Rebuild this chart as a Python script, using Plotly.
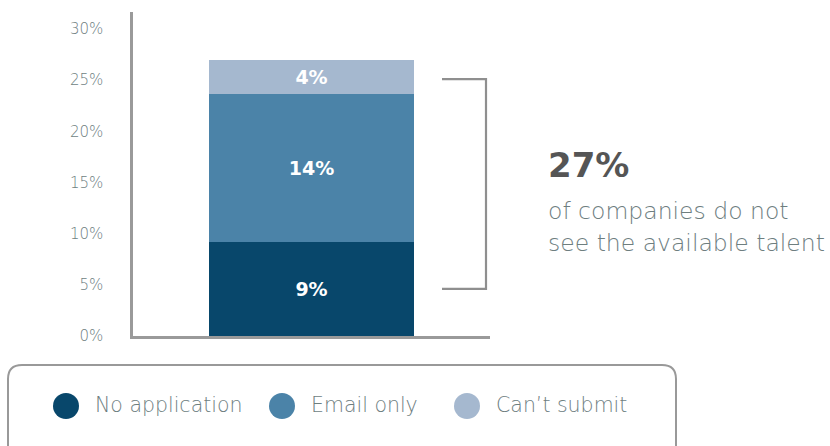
import plotly.graph_objects as go

# Data
categories = ["Companies"]
series_names = ["No application", "Email only", "Can’t submit"]
series_values = [9.2, 14.5, 3.3]
series_labels = ["9%", "14%", "4%"]
colors = ["#08476b", "#4b83a8", "#a5b8cf"]
tick_vals = [0, 5, 10, 15, 20, 25, 30]
tick_text = ["0%", "5%", "10%", "15%", "20%", "25%", "30%"]
bracket_range = [4.6, 25.1]
headline = "27%"
subtext = ["of companies do not", "see the available talent"]

FONT = "DejaVu Sans"
LIGHT = 200
W, H = 830, 446
L, R, T, B = 133, 340, 12, 110
PW = W - L - R
PH = H - T - B

def px(x):
    return (x - L) / PW

def py(y):
    return (H - B - y) / PH

fig = go.Figure()
for name, v, lab, c in zip(series_names, series_values, series_labels, colors):
    fig.add_trace(go.Bar(
        x=categories, y=[v], name=name, marker_color=c, marker_line_width=0,
        text=[lab], textposition="inside", insidetextanchor="middle",
        textfont=dict(color="white", size=19, family=FONT, weight="bold"),
        width=0.574, showlegend=False, hoverinfo="skip",
    ))

axis_gray = "#9a9a9a"
text_gray = "#6e7e7f"

shapes = []
# bracket
bx0, bx1 = px(442), px(486)
shapes.append(dict(type="path", xref="paper", yref="y",
                   path=f"M {bx0} {bracket_range[1]} L {bx1} {bracket_range[1]} L {bx1} {bracket_range[0]} L {bx0} {bracket_range[0]}",
                   line=dict(color="#8f8f8f", width=2.2)))

# legend box (rounded rectangle)
x0, x1, y0, y1, r = 8, 676, 365, 470, 14
def P(x, y):
    return f"{px(x)} {py(y)}"
path = (f"M {P(x0 + r, y0)} L {P(x1 - r, y0)} Q {P(x1, y0)} {P(x1, y0 + r)} "
        f"L {P(x1, y1 - r)} Q {P(x1, y1)} {P(x1 - r, y1)} L {P(x0 + r, y1)} "
        f"Q {P(x0, y1)} {P(x0, y1 - r)} L {P(x0, y0 + r)} Q {P(x0, y0)} {P(x0 + r, y0)} Z")
shapes.append(dict(type="path", xref="paper", yref="paper", path=path,
                   line=dict(color="#999999", width=2)))

annotations = []
legend_cx = [66, 282, 467]
cy, rad = 406, 13
for cx, name, c in zip(legend_cx, series_names, colors):
    shapes.append(dict(type="circle", xref="paper", yref="paper",
                       x0=px(cx - rad), x1=px(cx + rad), y0=py(cy + rad), y1=py(cy - rad),
                       fillcolor=c, line=dict(width=0)))
    annotations.append(dict(x=px(cx + 27), y=py(cy - 1), xref="paper", yref="paper",
                            text=name, showarrow=False, xanchor="left", yanchor="middle",
                            font=dict(size=20.5, color=text_gray, family=FONT, weight=LIGHT)))

annotations.append(dict(x=px(546), y=py(165), xref="paper", yref="paper", text=f"<b>{headline}</b>",
                        showarrow=False, xanchor="left", yanchor="middle",
                        font=dict(size=34, color="#555555", family=FONT)))
for i, line in enumerate(subtext):
    annotations.append(dict(x=px(546), y=py(211 + 32 * i), xref="paper", yref="paper", text=line,
                            showarrow=False, xanchor="left", yanchor="middle",
                            font=dict(size=23.5, color=text_gray, family=FONT, weight=LIGHT)))

fig.update_layout(
    barmode="stack",
    width=W, height=H,
    margin=dict(l=L, r=R, t=T, b=B),
    paper_bgcolor="white", plot_bgcolor="white",
    xaxis=dict(showticklabels=False, showgrid=False, showline=True, linecolor=axis_gray,
               linewidth=2.5, range=[-0.5, 0.5], zeroline=False, ticks=""),
    yaxis=dict(range=[0, 31.67], tickvals=tick_vals, ticktext=tick_text, showgrid=False,
               showline=True, linecolor=axis_gray, linewidth=2.5, zeroline=False,
               ticks="", ticklabelstandoff=24,
               tickfont=dict(size=15, color=text_gray, family=FONT, weight=LIGHT)),
    shapes=shapes, annotations=annotations,
    showlegend=False,
)

fig.write_html("out.html")
